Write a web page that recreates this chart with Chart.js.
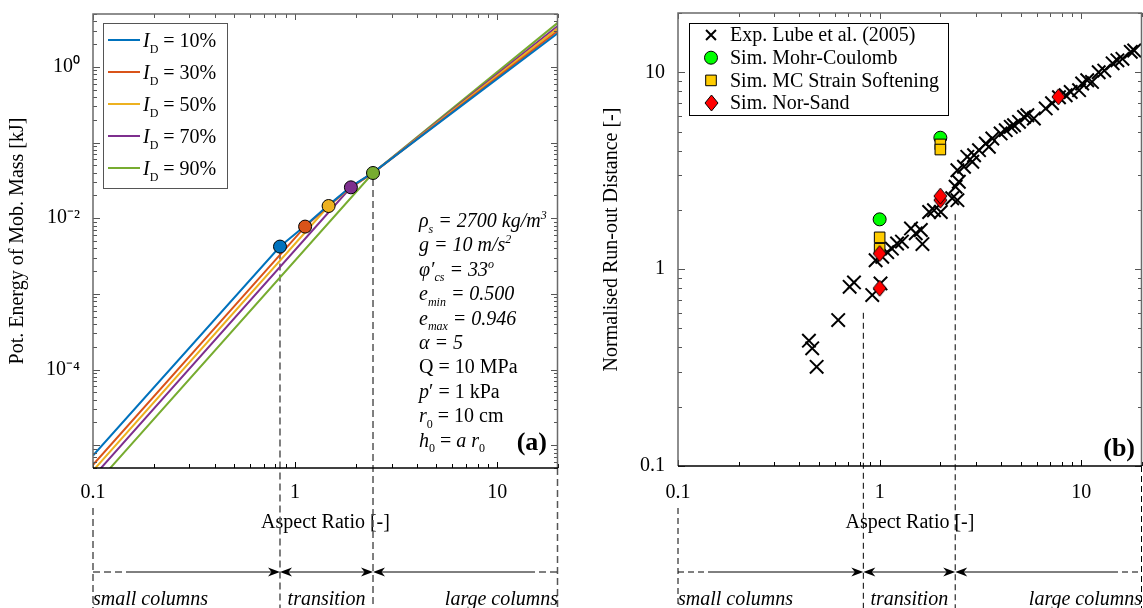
<!DOCTYPE html>
<html lang="en">
<head>
<meta charset="UTF-8">
<title>Column collapse: potential energy and run-out</title>
<script src="https://cdn.jsdelivr.net/npm/chart.js"></script>
<style>
  body { margin: 0; background: #fff; }
  #wrap { position: relative; width: 1143px; height: 608px; overflow: hidden; }
  canvas { position: absolute; top: 0; }
  #energyChart { left: 0; }
  #runoutChart { left: 580px; }
</style>
</head>
<body>
<div id="wrap">
  <canvas id="energyChart" width="580" height="608"></canvas>
  <canvas id="runoutChart" width="563" height="608"></canvas>
</div>
<script>
const SERIF = '"Liberation Serif", "Times New Roman", serif';

// ---- panel (a): potential energy of mobilised mass ----
const idLevels = [10, 30, 50, 70, 90];
const idColors = ['#0072BD', '#D95319', '#EDB120', '#7E2F8E', '#77AC30'];
const ratioID10 = [0.1, 0.842, 1.121, 1.465, 1.889, 2.43, 20];
const energyID10 = [7.3e-6, 4.22e-3, 7.95e-3, 0.0149, 0.0262, 0.0400, 2.8];
const ratioID30 = [0.1, 1.121, 1.465, 1.889, 2.43, 20];
const energyID30 = [5.5e-6, 7.75e-3, 0.0146, 0.0258, 0.0398, 3.0];
const ratioID50 = [0.1, 1.465, 1.889, 2.43, 20];
const energyID50 = [4.6e-6, 0.0145, 0.0256, 0.0397, 3.25];
const ratioID70 = [0.1, 1.889, 2.43, 20];
const energyID70 = [3.8e-6, 0.0256, 0.0396, 3.5];
const ratioID90 = [0.1, 2.43, 20];
const energyID90 = [2.77e-6, 0.0396, 3.85];
// transition points (one per density)
const transRatio = [0.842, 1.121, 1.465, 1.889, 2.43];
const transEnergy = [4.22e-3, 7.75e-3, 0.0145, 0.0256, 0.0396];
const energyLabelVals = [1e-4, 1e-2, 1];
const energyLabelText = ['10\u207B\u2074', '10\u207B\u00B2', '10\u2070'];

// ---- panel (b): normalised run-out ----
const expRatio = [0.446,0.463,0.487,0.623,0.71,0.746,0.919,1.01,0.955,1.03,1.09,1.15,1.22,1.29,1.43,1.51,1.6,1.63,1.76,1.86,2.01,2.29,2.43,2.38,2.47,2.43,2.62,2.72,2.88,2.94,3.11,3.36,3.48,3.62,3.98,4.22,4.47,4.64,4.91,5.2,5.4,5.82,6.66,7.16,7.75,8.37,8.86,9.75,10.1,10.7,11.3,12.2,13.0,14.3,15.1,16.0,17.6,18.3];
const expRunout = [0.433,0.396,0.319,0.551,0.813,0.856,0.738,0.846,1.11,1.155,1.22,1.27,1.35,1.38,1.61,1.52,1.58,1.34,1.95,1.99,1.95,2.29,2.24,2.62,2.78,3.18,3.31,3.72,3.51,3.79,4.02,4.35,4.18,4.61,4.89,5.08,5.28,5.38,5.6,5.93,6.05,5.82,6.55,6.96,7.47,7.64,7.94,8.11,8.77,9.11,8.93,10.0,10.2,11.1,11.5,11.7,12.7,12.9];
const mcRatio = [1, 2];
const mcRunout = [1.79, 4.65];
const mcssRatio = [1, 1, 2, 2];
const mcssRunout = [1.45, 1.27, 4.3, 4.05];
const nsRatio = [1, 1, 2, 2, 7.7];
const nsRunout = [1.2, 0.8, 2.24, 2.35, 7.5];
const runoutLabelVals = [0.1, 1, 10];
const runoutLabelText = ['0.1', '1', '10'];

// shared x axis
const ratioLabelVals = [0.1, 1, 10];
const ratioLabelText = ['0.1', '1', '10'];
const regimeNames = ['small columns', 'transition', 'large columns'];
const limitsA = [0.842, 2.43];
const limitsB = [0.83, 2.37];

const paramLines = [
  [['\u03C1', 'i'], ['s', 'is'], [' = 2700 kg/m', 'i'], ['3', 'ip']],
  [['g = 10 m/s', 'i'], ['2', 'ip']],
  [['\u03C6\u2032', 'i'], ['cs', 'is'], [' = 33', 'i'], ['o', 'ip']],
  [['e', 'i'], ['min', 'is'], [' = 0.500', 'i']],
  [['e', 'i'], ['max', 'is'], [' = 0.946', 'i']],
  [['\u03B1 = 5', 'i']],
  [['Q = 10 MPa', '']],
  [['p', 'i'], ['\u2032 = 1 kPa', '']],
  [['r', 'i'], ['0', 's'], [' = 10 cm', '']],
  [['h', 'i'], ['0', 's'], [' = ', ''], ['a r', 'i'], ['0', 's']]
];

function logTicks(min, max) {
  const out = [];
  for (let e = -7; e <= 2; e++) {
    for (let m = 1; m <= 9; m++) {
      const v = m * Math.pow(10, e);
      if (v >= min * 0.999 && v <= max * 1.001) out.push(v);
    }
  }
  return out;
}
function sameLog(a, b) { return Math.abs(Math.log10(a) - Math.log10(b)) < 1e-6; }
function labelFor(v, vals, texts) {
  const i = vals.findIndex(t => sameLog(t, v));
  return i < 0 ? '' : texts[i];
}
function isDecade(v) { const l = Math.log10(v); return Math.abs(l - Math.round(l)) < 1e-6; }

function drawRich(ctx, x, y, parts, size) {
  let cx = x;
  parts.forEach(([t, k]) => {
    const sub = k.includes('s'), sup = k.includes('p');
    const fs = (sub || sup) ? Math.round(size * 0.62) : size;
    ctx.font = (k.includes('i') ? 'italic ' : '') + (k.includes('b') ? 'bold ' : '') + fs + 'px ' + SERIF;
    const dy = sub ? size * 0.28 : sup ? -size * 0.4 : 0;
    ctx.fillText(t, cx, y + dy);
    cx += ctx.measureText(t).width;
  });
  return cx;
}

// MATLAB's diamond is taller than wide, so use a small image as point style
function diamondImage(w, h, fill) {
  const c = document.createElement('canvas');
  c.width = w + 2; c.height = h + 2;
  const g = c.getContext('2d');
  g.fillStyle = fill; g.strokeStyle = '#000'; g.lineWidth = 1;
  g.beginPath();
  g.moveTo(c.width / 2, 1); g.lineTo(c.width - 1, c.height / 2);
  g.lineTo(c.width / 2, c.height - 1); g.lineTo(1, c.height / 2);
  g.closePath(); g.fill(); g.stroke();
  return c;
}

function arrowHead(ctx, tipX, y, dir) {
  const L = 12, W = 4.5, notch = 3.5;
  ctx.beginPath();
  ctx.moveTo(tipX, y);
  ctx.lineTo(tipX - dir * L, y - W);
  ctx.lineTo(tipX - dir * (L - notch), y);
  ctx.lineTo(tipX - dir * L, y + W);
  ctx.closePath();
  ctx.fill();
}

function drawMarker(ctx, style, x, y, r, fill, stroke, lw) {
  ctx.save();
  ctx.fillStyle = fill; ctx.strokeStyle = stroke; ctx.lineWidth = lw;
  ctx.beginPath();
  if (typeof style !== 'string') {
    ctx.drawImage(style, Math.round(x - style.width / 2), Math.round(y - style.height / 2));
  } else if (style === 'crossRot') {
    const d = r * Math.SQRT1_2;
    ctx.moveTo(x - d, y - d); ctx.lineTo(x + d, y + d);
    ctx.moveTo(x + d, y - d); ctx.lineTo(x - d, y + d);
    ctx.stroke();
  } else if (style === 'circle') {
    ctx.arc(x, y, r, 0, Math.PI * 2); ctx.fill(); ctx.stroke();
  } else if (style === 'rect') {
    const d = r * Math.SQRT1_2;
    ctx.rect(x - d, y - d, 2 * d, 2 * d); ctx.fill(); ctx.stroke();
  }
  ctx.restore();
}

// vertical regime lines (under the data)
function drawRegimeLines(chart, lims, tops, colour, lw, dash) {
  const {ctx, chartArea: a, scales: {x}} = chart;
  const H = chart.height;
  ctx.save();
  ctx.strokeStyle = colour; ctx.lineWidth = lw; ctx.setLineDash(dash);
  const v = (px, y0) => { ctx.beginPath(); ctx.moveTo(px, y0); ctx.lineTo(px, H); ctx.stroke(); };
  v(x.getPixelForValue(lims[0]), tops[0]);
  v(x.getPixelForValue(lims[1]), tops[1]);
  v(a.left, 508);
  v(a.right - 0.5, a.bottom);
  ctx.restore();
}

// arrows and regime names below the axis
function drawRegimeArrows(chart, lims, dash) {
  const {ctx, chartArea: a, scales: {x}} = chart;
  const xs = x.getPixelForValue(lims[0]), xt = x.getPixelForValue(lims[1]);
  const ay = 572;
  ctx.save();
  ctx.strokeStyle = '#000'; ctx.fillStyle = '#000'; ctx.lineWidth = 1;
  const seg = (x0, x1, d) => { ctx.setLineDash(d); ctx.beginPath(); ctx.moveTo(x0, ay); ctx.lineTo(x1, ay); ctx.stroke(); };
  seg(a.left, a.left + 33, dash);
  seg(a.left + 33, xs - 8, []);
  seg(xs + 8, xt - 8, []);
  seg(xt + 8, a.right - 30, []);
  seg(a.right - 30, a.right, dash);
  ctx.setLineDash([]);
  arrowHead(ctx, xs, ay, 1);
  arrowHead(ctx, xs, ay, -1);
  arrowHead(ctx, xt, ay, 1);
  arrowHead(ctx, xt, ay, -1);
  ctx.font = 'italic 20px ' + SERIF;
  ctx.textBaseline = 'alphabetic';
  ctx.textAlign = 'left'; ctx.fillText(regimeNames[0], a.left, 605);
  ctx.textAlign = 'center'; ctx.fillText(regimeNames[1], (xs + xt) / 2, 605);
  ctx.textAlign = 'right'; ctx.fillText(regimeNames[2], a.right, 605);
  ctx.restore();
}

// MATLAB-like box with inward ticks
function drawFrame(chart) {
  const {ctx, chartArea: a, scales: {x, y}} = chart;
  ctx.save();
  ctx.lineWidth = 1;
  x.ticks.forEach(t => {
    const px = Math.round(x.getPixelForValue(t.value)) + 0.5;
    const len = isDecade(t.value) ? 6 : 4;
    ctx.strokeStyle = '#000';
    ctx.beginPath(); ctx.moveTo(px, a.bottom); ctx.lineTo(px, a.bottom - len); ctx.stroke();
    ctx.strokeStyle = '#555';
    ctx.beginPath(); ctx.moveTo(px, a.top); ctx.lineTo(px, a.top + len); ctx.stroke();
  });
  y.ticks.forEach(t => {
    const py = Math.round(y.getPixelForValue(t.value)) + 0.5;
    const len = isDecade(t.value) ? 7 : 4;
    ctx.strokeStyle = '#555';
    ctx.beginPath(); ctx.moveTo(a.left, py); ctx.lineTo(a.left + len, py); ctx.stroke();
    ctx.beginPath(); ctx.moveTo(a.right, py); ctx.lineTo(a.right - len, py); ctx.stroke();
  });
  ctx.lineWidth = 1.5;
  ctx.strokeStyle = '#6a6a6a';
  ctx.beginPath();
  ctx.moveTo(a.left, a.bottom); ctx.lineTo(a.left, a.top); ctx.lineTo(a.right - 0.5, a.top); ctx.lineTo(a.right - 0.5, a.bottom);
  ctx.stroke();
  ctx.strokeStyle = '#000';
  ctx.beginPath(); ctx.moveTo(a.left, a.bottom); ctx.lineTo(a.right, a.bottom); ctx.stroke();
  ctx.restore();
}

function axisOptions(min, max, labelVals, labelText, pad, extra) {
  return Object.assign({
    type: 'logarithmic', min, max,
    afterBuildTicks: s => { s.ticks = logTicks(min, max).map(v => ({value: v})); },
    grid: {display: false, drawTicks: false},
    border: {display: false},
    ticks: {
      autoSkip: false, maxRotation: 0, minRotation: 0, color: '#000', padding: pad,
      font: {family: SERIF, size: 20},
      callback: v => labelFor(v, labelVals, labelText)
    }
  }, extra);
}
// fixed axis sizes so the plot box lands where the figure has it
const fixHeight = h => s => { s.height = h; s.paddingLeft = 0; s.paddingRight = 0; };
const fixWidth = w => s => { s.width = w; s.paddingTop = 0; s.paddingBottom = 0; };

const energyPlugin = {
  id: 'energyPlugin',
  beforeDatasetsDraw(chart) {
    const y = chart.scales.y;
    drawRegimeLines(chart, limitsA,
      [y.getPixelForValue(transEnergy[0]) + 6, y.getPixelForValue(transEnergy[4]) + 6],
      '#555', 1.5, [7, 4]);
  },
  afterDraw(chart) {
    const {ctx} = chart;
    drawRegimeArrows(chart, limitsA, [7, 4]);
    // legend
    ctx.save();
    ctx.fillStyle = '#fff'; ctx.strokeStyle = '#555'; ctx.lineWidth = 1;
    ctx.fillRect(103, 23, 124, 165); ctx.strokeRect(103.5, 23.5, 124, 165);
    chart.data.datasets.slice(0, idLevels.length).forEach((ds, i) => {
      const ly = 40 + 32 * i;
      ctx.strokeStyle = ds.borderColor; ctx.lineWidth = 2;
      ctx.beginPath(); ctx.moveTo(108, ly); ctx.lineTo(140, ly); ctx.stroke();
      ctx.fillStyle = '#000'; ctx.textBaseline = 'alphabetic'; ctx.textAlign = 'left';
      drawRich(ctx, 143, ly + 7, [['I', 'i'], ['D', 's'], [' = ' + idLevels[i] + '%', '']], 20);
    });
    // parameter block
    ctx.fillStyle = '#000';
    paramLines.forEach((parts, k) => drawRich(ctx, 419, 220 + 24.4 * k + 7, parts, 20));
    ctx.font = 'bold 26px ' + SERIF; ctx.textAlign = 'right';
    ctx.fillText('(a)', 547, 450);
    ctx.restore();
    drawFrame(chart);
  }
};

const runoutPlugin = {
  id: 'runoutPlugin',
  beforeDatasetsDraw(chart) {
    const y = chart.scales.y;
    drawRegimeLines(chart, limitsB, [y.getPixelForValue(0.6), y.getPixelForValue(1.9)], '#000', 1, [6, 4]);
  },
  afterDraw(chart) {
    const {ctx} = chart;
    drawRegimeArrows(chart, limitsB, [6, 4]);
    ctx.save();
    ctx.fillStyle = '#fff'; ctx.strokeStyle = '#000'; ctx.lineWidth = 1;
    ctx.fillRect(109, 23, 259, 92); ctx.strokeRect(109.5, 23.5, 259, 92);
    chart.data.datasets.forEach((ds, i) => {
      const ly = 35 + 22.7 * i;
      drawMarker(ctx, ds.pointStyle, 131, ly, ds.legendRadius, ds.backgroundColor, ds.borderColor, ds.pointBorderWidth);
      ctx.fillStyle = '#000'; ctx.font = '20px ' + SERIF; ctx.textBaseline = 'middle'; ctx.textAlign = 'left';
      ctx.fillText(ds.label, 150, ly + 1);
    });
    ctx.font = 'bold 26px ' + SERIF; ctx.textAlign = 'right'; ctx.textBaseline = 'alphabetic';
    ctx.fillText('(b)', 555, 456);
    ctx.restore();
    drawFrame(chart);
  }
};

const pairs = (xs, ys) => xs.map((x, i) => ({x, y: ys[i]}));
const curveRatios = [ratioID10, ratioID30, ratioID50, ratioID70, ratioID90];
const curveEnergies = [energyID10, energyID30, energyID50, energyID70, energyID90];
const titleFont = {family: SERIF, size: 20};

new Chart(document.getElementById('energyChart'), {
  type: 'scatter',
  data: {
    datasets: idLevels.map((id, i) => ({
      label: 'I_D = ' + id + '%',
      data: pairs(curveRatios[i], curveEnergies[i]),
      showLine: true, tension: 0, pointRadius: 0,
      borderColor: idColors[i], backgroundColor: idColors[i], borderWidth: 2
    })).concat([{
      label: 'transition points',
      data: pairs(transRatio, transEnergy),
      pointRadius: 6.5, pointBackgroundColor: idColors, pointBorderColor: '#000', pointBorderWidth: 1,
      order: -1
    }])
  },
  options: {
    responsive: false, animation: false, events: [],
    layout: {autoPadding: false, padding: {top: 14, right: 22, left: 0, bottom: 0}},
    plugins: {legend: {display: false}, tooltip: {enabled: false}},
    scales: {
      x: axisOptions(0.1, 20, ratioLabelVals, ratioLabelText, 13, {
        afterFit: fixHeight(140),
        title: {display: true, text: 'Aspect Ratio [-]', color: '#000', font: titleFont, padding: {top: 0, bottom: 73}}
      }),
      y: axisOptions(5e-6, 5, energyLabelVals, energyLabelText, 13, {
        afterFit: fixWidth(93),
        title: {display: true, text: 'Pot. Energy of Mob. Mass [kJ]', color: '#000', font: titleFont, padding: {top: 6, bottom: 0}}
      })
    }
  },
  plugins: [energyPlugin]
});

new Chart(document.getElementById('runoutChart'), {
  type: 'scatter',
  data: {
    datasets: [
      {label: 'Exp. Lube et al. (2005)', data: pairs(expRatio, expRunout), pointStyle: 'crossRot', pointRadius: 9.5,
       legendRadius: 7, borderColor: '#000', backgroundColor: '#000', pointBorderWidth: 2, borderWidth: 2, order: 4},
      {label: 'Sim. Mohr-Coulomb', data: pairs(mcRatio, mcRunout), pointStyle: 'circle', pointRadius: 6.5,
       legendRadius: 6.5, borderColor: '#000', backgroundColor: '#00FF00', pointBorderWidth: 1, order: 3},
      {label: 'Sim. MC Strain Softening', data: pairs(mcssRatio, mcssRunout), pointStyle: 'rect', pointRadius: 7.5,
       legendRadius: 7.5, borderColor: '#000', backgroundColor: '#FFCC00', pointBorderWidth: 1, order: 2},
      {label: 'Sim. Nor-Sand', data: pairs(nsRatio, nsRunout), pointStyle: diamondImage(13, 16, '#FF0000'), pointRadius: 8,
       legendRadius: 8, borderColor: '#000', backgroundColor: '#FF0000', pointBorderWidth: 1, order: 1}
    ]
  },
  options: {
    responsive: false, animation: false, events: [],
    layout: {autoPadding: false, padding: {top: 13, right: 1, left: 0, bottom: 0}},
    plugins: {legend: {display: false}, tooltip: {enabled: false}},
    scales: {
      x: axisOptions(0.1, 20, ratioLabelVals, ratioLabelText, 15, {
        afterFit: fixHeight(142),
        title: {display: true, text: 'Aspect Ratio [-]', color: '#000', font: titleFont, padding: {top: 0, bottom: 73}}
      }),
      y: axisOptions(0.1, 20, runoutLabelVals, runoutLabelText, 13, {
        afterFit: fixWidth(98),
        title: {display: true, text: 'Normalised Run-out Distance [-]', color: '#000', font: titleFont, padding: {top: 20, bottom: 0}}
      })
    }
  },
  plugins: [runoutPlugin]
});
</script>
</body>
</html>
